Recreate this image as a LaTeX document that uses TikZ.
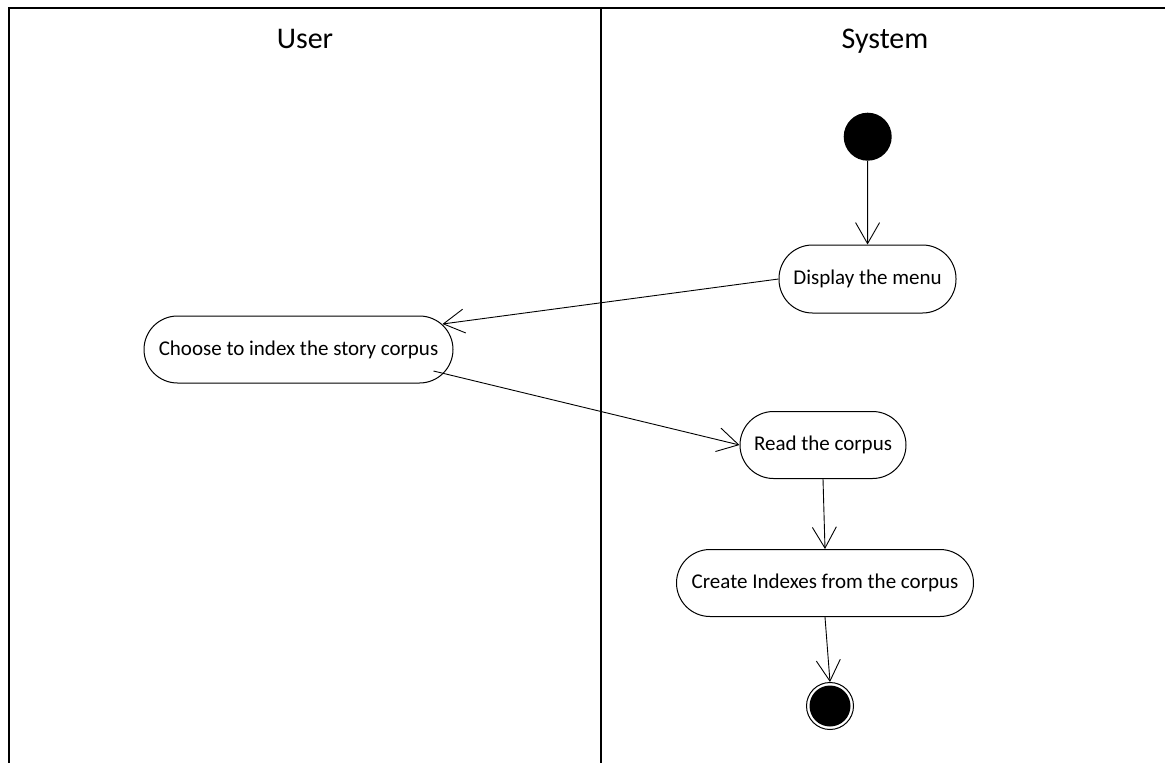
\documentclass[tikz,border=0pt]{standalone}
\usepackage{fontspec}
\setmainfont{Carlito}
\usetikzlibrary{arrows.meta}
\begin{document}
\begin{tikzpicture}[x=1pt,y=-1pt,
  act/.style={draw,line width=1pt,rectangle,rounded corners=33.5pt,minimum height=67pt,inner sep=0pt,font=\fontsize{21}{25}\selectfont},
  flow/.style={line width=0.9pt,-{Straight Barb[length=21pt,width=24pt,line width=0.9pt]}},
  lane/.style={line width=1.6pt},
  lanetitle/.style={font=\fontsize{30}{36}\selectfont,inner sep=0pt,anchor=base},
  startnode/.style={circle,fill=black,minimum size=48pt,inner sep=0pt},
  endnode/.style={circle,draw,line width=1pt,minimum size=47pt,inner sep=0pt,
    path picture={\fill (path picture bounding box.center) circle (20.5pt);}}]
\useasboundingbox (0,0) rectangle (1165,763);
% swimlanes
\draw[lane] (9,763) -- (9,8) -- (1165,8);
\draw[lane] (601,8) -- (601,763);
\node[lanetitle] (user) at (305,48) {User};
\node[lanetitle] (sys) at (885,48) {System};
% nodes
\node[startnode] (start) at (867.7,136.7) {};
\node[act,minimum width=177pt,minimum height=68pt] (disp) at (867.5,279) {Display the menu};
\node[act,minimum width=309pt] (choose) at (298.5,349.5) {Choose to index the story corpus};
\node[act,minimum width=166pt] (read) at (823,445) {Read the corpus};
\node[act,minimum width=297pt] (create) at (825,583) {Create Indexes from the corpus};
\node[endnode] (end) at (830,706) {};
% connectors
\draw[flow] (start) -- (disp);
\draw[flow] (disp.west) -- ([xshift=-11pt,yshift=25.5pt]choose.east);
\draw[flow] ([xshift=-20pt,yshift=-21.5pt]choose.east) -- (read.west);
\draw[flow] (read.south) -- (create.north);
\draw[flow] (create.south) -- (end.north);
\end{tikzpicture}
\end{document}
